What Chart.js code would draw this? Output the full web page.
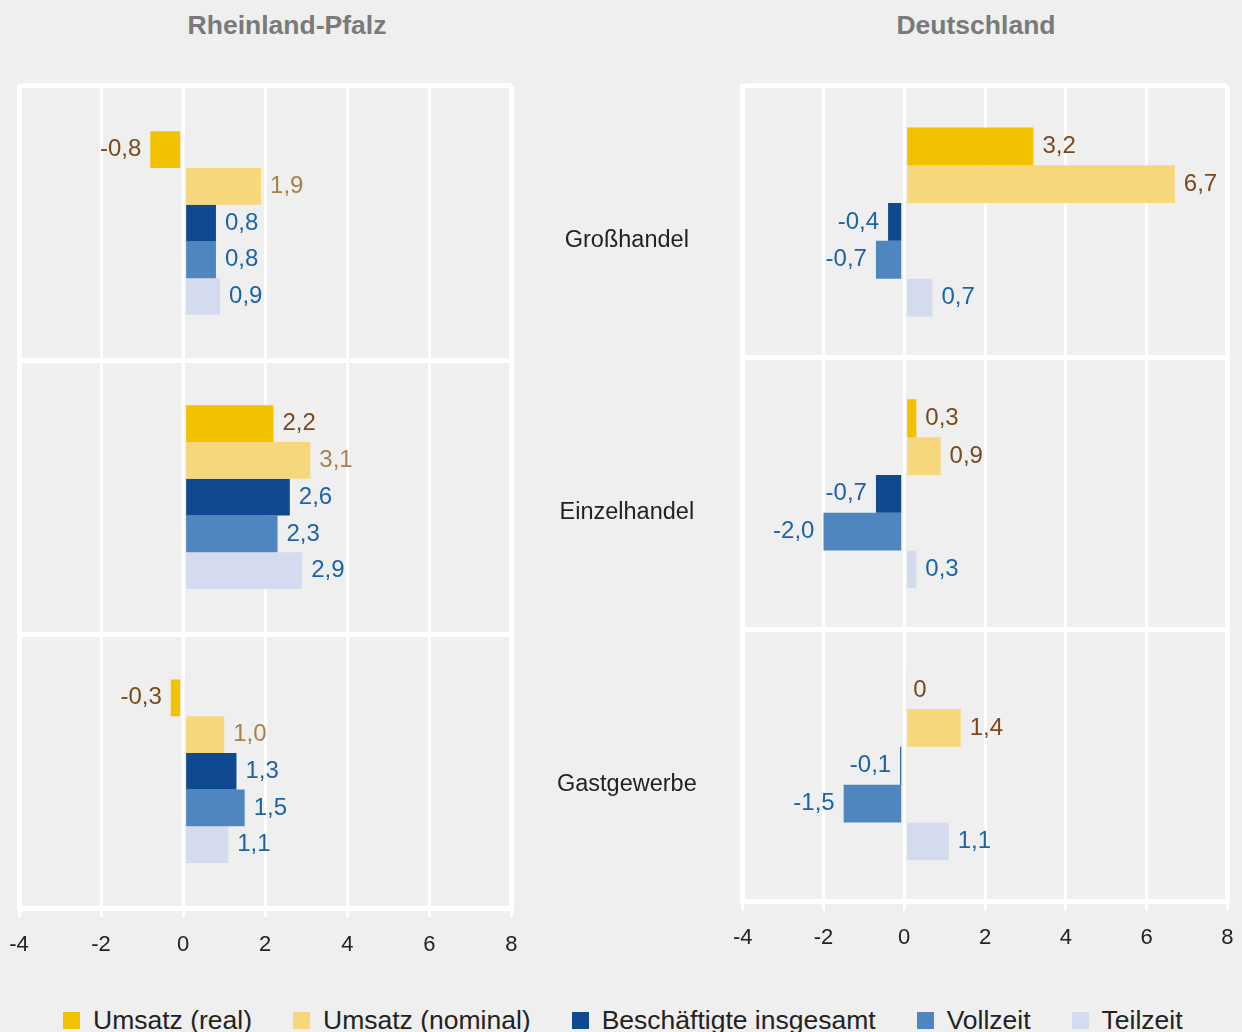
<!DOCTYPE html>
<html><head><meta charset="utf-8">
<script src="https://cdn.jsdelivr.net/npm/chart.js@4/dist/chart.umd.min.js"></script>
<style>
html,body{margin:0;padding:0;background:#eeefee;width:1242px;height:1032px;overflow:hidden;font-family:"Liberation Sans",Arial,sans-serif;}
.title{position:absolute;top:0;height:50px;line-height:50px;font-weight:bold;font-size:26.5px;color:#7a7a7a;transform:translateX(-50%);white-space:nowrap}
#cl{position:absolute;left:0;top:0}
#cr{position:absolute;left:540px;top:0}
#legend{position:absolute;left:63px;top:1005px;display:flex;font-size:26.5px;line-height:30px;color:#222;white-space:nowrap}
.item{display:flex;align-items:center;margin-right:41px}
.sw{width:17px;height:17px;margin-right:13px;flex:none}
</style></head><body>
<div class="title" style="left:287px">Rheinland-Pfalz</div>
<div class="title" style="left:976px">Deutschland</div>
<canvas id="cl" width="560" height="968"></canvas>
<canvas id="cr" width="702" height="968"></canvas>
<div id="legend"></div>
<script>
// ---- data ----
const categories = ['Großhandel', 'Einzelhandel', 'Gastgewerbe'];
const seriesNames = ['Umsatz (real)', 'Umsatz (nominal)', 'Beschäftigte insgesamt', 'Vollzeit', 'Teilzeit'];
const xTickMin = -4, xTickMax = 8, xTickStep = 2;

// Rheinland-Pfalz
const rlpUmsatzReal    = [-0.8, 2.2, -0.3];
const rlpUmsatzNominal = [1.9, 3.1, 1.0];
const rlpBeschaeftigte = [0.8, 2.6, 1.3];
const rlpVollzeit      = [0.8, 2.3, 1.5];
const rlpTeilzeit      = [0.9, 2.9, 1.1];

// Deutschland
const deUmsatzReal    = [3.2, 0.3, 0];
const deUmsatzNominal = [6.7, 0.9, 1.4];
const deBeschaeftigte = [-0.4, -0.7, -0.1];
const deVollzeit      = [-0.7, -2.0, -1.5];
const deTeilzeit      = [0.7, 0.3, 1.1];

// ---- styles ----
const BG = '#eeefee';
const seriesColors = ['#f2c100', '#f6d77b', '#0f4a91', '#4f86bf', '#d4dbee'];
const BROWN = '#7a4a1c', LBROWN = '#a8804f', BLUE = '#1c63a8';
const FONT = '"Liberation Sans", Arial, sans-serif';

const zeroLinePlugin = {
  id: 'zeroLine',
  afterDatasetsDraw(chart) {
    const {ctx, chartArea: a, scales: {x}} = chart;
    const z = x.getPixelForValue(0);
    ctx.save();
    ctx.fillStyle = BG;
    chart.data.datasets.forEach((ds, i) => {
      chart.getDatasetMeta(i).data.forEach(el => {
        const p = el.getProps(['y', 'height'], true);
        ctx.fillRect(z - 3, p.y - p.height / 2, 6, p.height);
      });
    });
    ctx.fillStyle = '#ffffff';
    ctx.fillRect(z - 1.5, a.top, 3, a.bottom - a.top);
    ctx.restore();
  }
};

const valueLabelPlugin = {
  id: 'valueLabels',
  afterDatasetsDraw(chart) {
    const ctx = chart.ctx;
    ctx.save();
    ctx.font = '24px ' + FONT;
    ctx.textBaseline = 'middle';
    chart.data.datasets.forEach((ds, i) => {
      const meta = chart.getDatasetMeta(i);
      ctx.fillStyle = ds.labelColor;
      meta.data.forEach((el, j) => {
        const v = ds.data[j];
        const p = el.getProps(['x', 'y'], true);
        const txt = v === 0 ? '0' : v.toFixed(1).replace('.', ',');
        if (v < 0) { ctx.textAlign = 'right'; ctx.fillText(txt, p.x - 9, p.y); }
        else { ctx.textAlign = 'left'; ctx.fillText(txt, p.x + 9, p.y); }
      });
    });
    ctx.restore();
  }
};

function makeChart(id, seriesData, labelColors, o) {
  const datasets = seriesData.map((d, i) => ({
    label: seriesNames[i],
    data: d,
    backgroundColor: seriesColors[i],
    borderWidth: 0,
    barPercentage: 1,
    categoryPercentage: o.catPct,
    labelColor: labelColors[i]
  }));
  return new Chart(document.getElementById(id), {
    type: 'bar',
    data: {labels: categories, datasets},
    plugins: [zeroLinePlugin, valueLabelPlugin],
    options: {
      indexAxis: 'y',
      responsive: false,
      animation: false,
      devicePixelRatio: 1,
      layout: {padding: {left: o.padLeft, right: o.padRight, top: 86, bottom: 0}},
      plugins: {legend: {display: false}, tooltip: {enabled: false}, title: {display: false}},
      scales: {
        x: {
          type: 'linear', min: xTickMin, max: xTickMax,
          afterFit: s => { s.height = o.xHeight; s.paddingLeft = 0; s.paddingRight = 0; },
          ticks: {stepSize: xTickStep, padding: 14, color: '#222', font: {size: 22, family: FONT}},
          grid: {
            color: '#ffffff',
            lineWidth: c => (c.tick && (c.tick.value === xTickMin || c.tick.value === xTickMax)) ? 5 : 3,
            tickLength: 9, tickWidth: 3, tickColor: '#ffffff', drawTicks: true
          },
          border: {display: true, color: '#ffffff', width: 5}
        },
        y: {
          type: 'category',
          afterFit: s => { s.width = o.yWidth; s.paddingTop = 0; s.paddingBottom = 0; },
          ticks: {
            display: o.showCats, crossAlign: 'center', padding: 46, labelOffset: 19,
            color: '#222', font: {size: 23.5, family: FONT}
          },
          grid: {offset: true, color: '#ffffff', lineWidth: 5, drawTicks: false},
          border: {display: true, color: '#ffffff', width: 5}
        }
      }
    }
  });
}

makeChart('cl',
  [rlpUmsatzReal, rlpUmsatzNominal, rlpBeschaeftigte, rlpVollzeit, rlpTeilzeit],
  [BROWN, LBROWN, BLUE, BLUE, BLUE],
  {catPct: 0.67, padLeft: 19, padRight: 48.6, yWidth: 0, xHeight: 59.7, showCats: false});

makeChart('cr',
  [deUmsatzReal, deUmsatzNominal, deBeschaeftigte, deVollzeit, deTeilzeit],
  [BROWN, BROWN, BLUE, BLUE, BLUE],
  {catPct: 0.695, padLeft: 0, padRight: 14.7, yWidth: 202.7, xHeight: 66.3, showCats: true});

// legend
const lg = document.getElementById('legend');
seriesNames.forEach((n, i) => {
  const it = document.createElement('div'); it.className = 'item';
  const sw = document.createElement('div'); sw.className = 'sw'; sw.style.background = seriesColors[i];
  const tx = document.createElement('span'); tx.textContent = n;
  it.appendChild(sw); it.appendChild(tx); lg.appendChild(it);
});
</script>
</body></html>
